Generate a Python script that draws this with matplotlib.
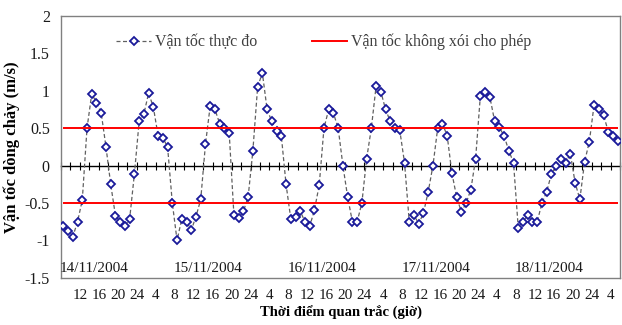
import numpy as np
import matplotlib
matplotlib.use("Agg")
from matplotlib import pyplot as plt

plt.rcParams['font.family'] = ['Liberation Serif', 'DejaVu Serif']
plt.rcParams['axes.unicode_minus'] = False

# hourly measured velocity (m/s), 14/11/2004 08h -> 19/11/2004 05h
measured = [
    -0.81, -0.87, -0.95, -0.75, -0.46, 0.50, 0.96, 0.84, 0.70, 0.25,
    -0.25, -0.67, -0.75, -0.81, -0.71, -0.11, 0.59, 0.69, 0.97, 0.78,
    0.40, 0.37, 0.25, -0.50, -1.00, -0.71, -0.75, -0.86, -0.68, -0.45,
    0.29, 0.80, 0.75, 0.56, 0.50, 0.44, -0.66, -0.70, -0.61, -0.42,
    0.20, 1.05, 1.24, 0.75, 0.59, 0.46, 0.40, -0.25, -0.71, -0.69,
    -0.61, -0.75, -0.81, -0.59, -0.26, 0.50, 0.75, 0.70, 0.50, 0.00,
    -0.42, -0.75, -0.75, -0.50, 0.09, 0.50, 1.06, 0.99, 0.75, 0.59,
    0.50, 0.47, 0.04, -0.75, -0.66, -0.78, -0.63, -0.35, 0.00, 0.50,
    0.56, 0.40, -0.10, -0.42, -0.62, -0.50, -0.32, 0.09, 0.93, 0.99,
    0.92, 0.60, 0.51, 0.40, 0.20, 0.04, -0.83, -0.75, -0.66, -0.75,
    -0.75, -0.50, -0.35, -0.11, 0.00, 0.09, 0.04, 0.16, -0.23, -0.45,
    0.05, 0.32, 0.81, 0.75, 0.68, 0.45, 0.40, 0.33,
]
allowed = 0.5  # vận tốc không xói cho phép (±)
hour_labels = ["12", "16", "20", "24", "4", "8"] * 4 + ["12", "16", "20", "24", "4"]
dates = ["14/11/2004", "15/11/2004", "16/11/2004", "17/11/2004", "18/11/2004"]

x = np.arange(len(measured))

fig = plt.figure(figsize=(6.22, 3.25), dpi=100)
ax = fig.add_axes([0.098, 0.145, 0.899, 0.806])

ax.plot(x, measured, color='#606060', lw=0.9, dashes=(3.2, 2),
        marker='D', ms=4.3, mfc='white', mec='#1a1a9a', mew=1.3,
        label='Vận tốc thực đo', zorder=3)
ax.hlines([allowed, -allowed], x[0], x[-1], colors='red', lw=1.4, zorder=4)
ax.plot([], [], color='red', lw=1.4, label='Vận tốc không xói cho phép')

ax.set_xlim(-0.5, len(measured) - 0.5)
ax.set_ylim(-1.5, 2)
ax.set_yticks(np.arange(-1.5, 2.01, 0.5))
ax.set_yticklabels(['%g' % v for v in np.arange(-1.5, 2.01, 0.5)])
ax.tick_params(axis='y', length=0, pad=8, labelsize=11.5, labelcolor='#1a1a1a')

ax.set_xticks(np.arange(3.5, 3.5 + 4 * len(hour_labels), 4))
ax.set_xticklabels(hour_labels)
ax.tick_params(axis='x', length=0, pad=8, labelsize=11, labelcolor='#1a1a1a')

for s in ax.spines.values():
    s.set_color('#808080')
    s.set_linewidth(1)

# category axis crossing at zero, tick marks every 2 hours
zero = ax.secondary_xaxis(1.5 / 3.5)
zero.set_xticks(np.arange(-0.5, len(measured), 2))
zero.tick_params(axis='x', direction='inout', length=6, width=0.8,
                 labelbottom=False, color='black')
zero.spines['bottom'].set_color('black')
zero.spines['bottom'].set_linewidth(1)

for k, d in enumerate(dates):
    ax.text(6.6 + 24 * k, -1.37, d, ha='center', va='center',
            fontsize=11, color='#1a1a1a')

ax.set_xlabel('Thời điểm quan trắc (giờ)', fontsize=10.5, fontweight='bold', labelpad=2)
ax.set_ylabel('Vận tốc dòng chảy (m/s)', fontsize=12, fontweight='bold', labelpad=3)

leg = ax.legend(ncol=2, loc='center', bbox_to_anchor=(0.47, 0.90), frameon=False,
                fontsize=11.5, handlelength=2.2, handletextpad=0.25, columnspacing=3.4)
for t in leg.get_texts():
    t.set_color('#404040')

plt.savefig('out.png', dpi=100)
